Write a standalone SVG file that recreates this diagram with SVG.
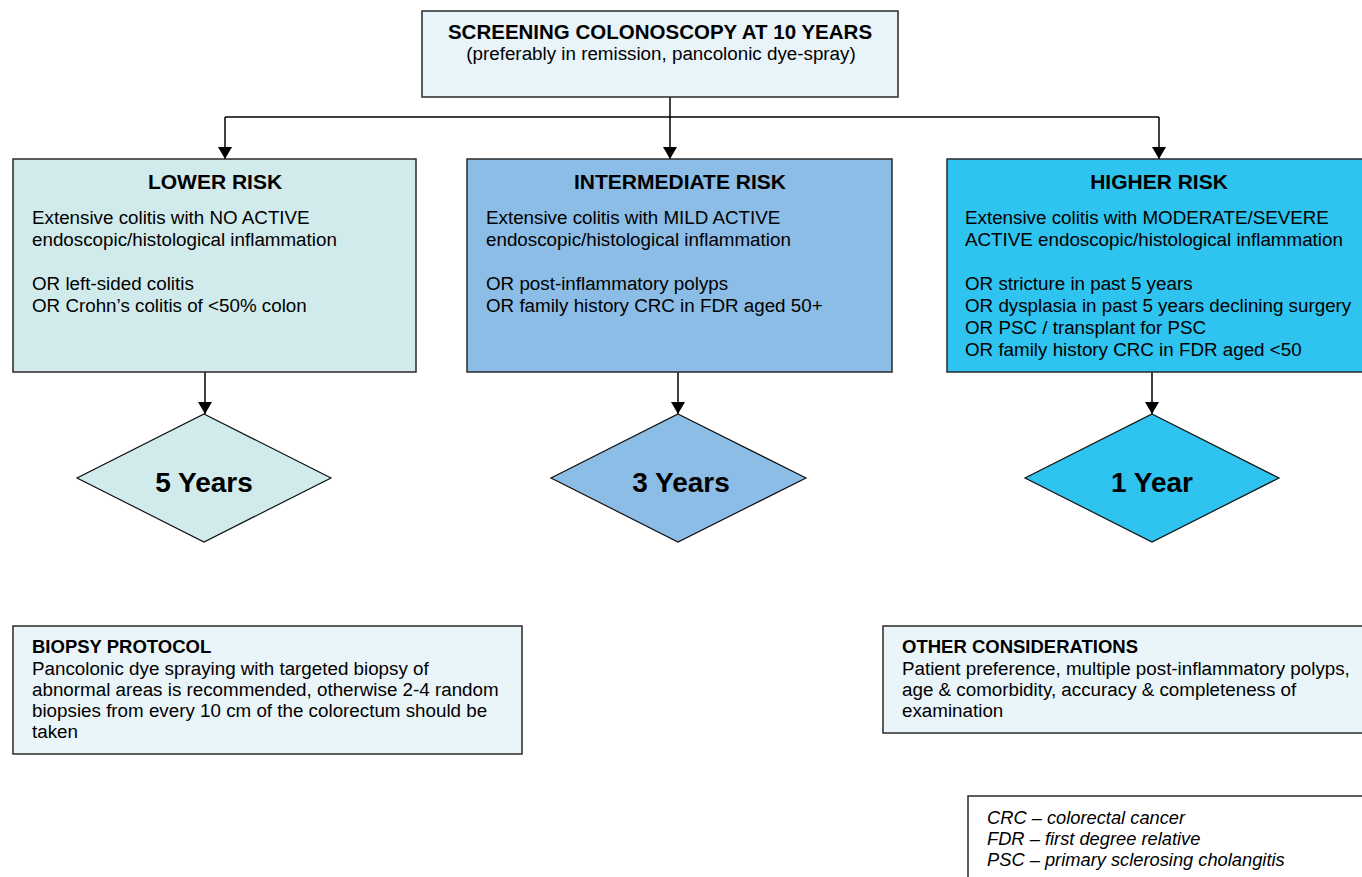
<svg xmlns="http://www.w3.org/2000/svg" width="1362" height="877" viewBox="0 0 1362 877">
<defs>
<marker id="ah" markerWidth="12" markerHeight="14" refX="12" refY="7" orient="auto" markerUnits="userSpaceOnUse" viewBox="0 0 12 14">
<path d="M0,0 L12,7 L0,14 Z" fill="#000"/>
</marker>
<style>
text{font-family:"Liberation Sans",Arial,sans-serif;fill:#000}
.box{stroke:#2a2a2a;stroke-width:1.5}
.dia{stroke:#111;stroke-width:1.2}
.ttl{font-size:20.5px;font-weight:bold}
.hd{font-size:21px;font-weight:bold}
.bd{font-size:18.8px}
.bh{font-size:18.5px;font-weight:bold}
.big{font-size:28px;font-weight:bold}
.it{font-size:18.3px;font-style:italic}
.ln{stroke:#000;stroke-width:1.5;fill:none}
</style>
</defs>
<rect width="1362" height="877" fill="#fff"/>
<g id="connectors">
<line class="ln" x1="670" y1="97" x2="670" y2="117"/>
<line class="ln" x1="225" y1="117" x2="1159" y2="117"/>
<line class="ln" x1="225" y1="117" x2="225" y2="159" marker-end="url(#ah)"/>
<line class="ln" x1="670" y1="117" x2="670" y2="159" marker-end="url(#ah)"/>
<line class="ln" x1="1159" y1="117" x2="1159" y2="159" marker-end="url(#ah)"/>
<line class="ln" x1="205" y1="372" x2="205" y2="414" marker-end="url(#ah)"/>
<line class="ln" x1="678" y1="372" x2="678" y2="414" marker-end="url(#ah)"/>
<line class="ln" x1="1152" y1="372" x2="1152" y2="414" marker-end="url(#ah)"/>
</g>
<g id="top">
<rect class="box" x="422" y="11" width="476" height="86" fill="#e8f4fa"/>
<text class="ttl" x="660" y="39" text-anchor="middle">SCREENING COLONOSCOPY AT 10 YEARS</text>
<text class="bd" x="661" y="60" text-anchor="middle">(preferably in remission, pancolonic dye-spray)</text>
</g>
<g id="lower">
<rect class="box" x="13" y="159" width="403" height="213" fill="#d1ebec"/>
<text class="hd" x="215" y="189" text-anchor="middle">LOWER RISK</text>
<text class="bd" x="32" y="224">Extensive colitis with NO ACTIVE</text>
<text class="bd" x="32" y="246">endoscopic/histological inflammation</text>
<text class="bd" x="32" y="290">OR left-sided colitis</text>
<text class="bd" x="32" y="312">OR Crohn’s colitis of &lt;50% colon</text>
</g>
<g id="intermediate">
<rect class="box" x="467" y="159" width="425" height="213" fill="#8cbde6"/>
<text class="hd" x="680" y="189" text-anchor="middle">INTERMEDIATE RISK</text>
<text class="bd" x="486" y="224">Extensive colitis with MILD ACTIVE</text>
<text class="bd" x="486" y="246">endoscopic/histological inflammation</text>
<text class="bd" x="486" y="290">OR post-inflammatory polyps</text>
<text class="bd" x="486" y="312">OR family history CRC in FDR aged 50+</text>
</g>
<g id="higher">
<rect class="box" x="947" y="159" width="425" height="213" fill="#2fc3f0"/>
<text class="hd" x="1159" y="189" text-anchor="middle">HIGHER RISK</text>
<text class="bd" x="965" y="224">Extensive colitis with MODERATE/SEVERE</text>
<text class="bd" x="965" y="246">ACTIVE endoscopic/histological inflammation</text>
<text class="bd" x="965" y="290">OR stricture in past 5 years</text>
<text class="bd" x="965" y="312">OR dysplasia in past 5 years declining surgery</text>
<text class="bd" x="965" y="334">OR PSC / transplant for PSC</text>
<text class="bd" x="965" y="356">OR family history CRC in FDR aged &lt;50</text>
</g>
<g id="d5">
<polygon class="dia" points="204,414 331,478 204,542 77,478" fill="#d1ebec"/>
<text class="big" x="204" y="492" text-anchor="middle">5 Years</text>
</g>
<g id="d3">
<polygon class="dia" points="678,414 806,478 678,542 551,478" fill="#8cbde6"/>
<text class="big" x="681" y="492" text-anchor="middle">3 Years</text>
</g>
<g id="d1">
<polygon class="dia" points="1152,414 1279,478 1152,542 1025,478" fill="#2fc3f0"/>
<text class="big" x="1152" y="492" text-anchor="middle">1 Year</text>
</g>
<g id="biopsy">
<rect class="box" x="13" y="626" width="509" height="128" fill="#eaf5fa"/>
<text class="bh" x="32" y="653">BIOPSY PROTOCOL</text>
<text class="bd" x="32" y="675">Pancolonic dye spraying with targeted biopsy of</text>
<text class="bd" x="32" y="696">abnormal areas is recommended, otherwise 2-4 random</text>
<text class="bd" x="32" y="717">biopsies from every 10 cm of the colorectum should be</text>
<text class="bd" x="32" y="738">taken</text>
</g>
<g id="other">
<rect class="box" x="883" y="626" width="490" height="107" fill="#eaf5fa"/>
<text class="bh" x="902" y="653">OTHER CONSIDERATIONS</text>
<text class="bd" x="902" y="675">Patient preference, multiple post-inflammatory polyps,</text>
<text class="bd" x="902" y="696">age &amp; comorbidity, accuracy &amp; completeness of</text>
<text class="bd" x="902" y="717">examination</text>
</g>
<g id="legend">
<rect class="box" x="968" y="796" width="410" height="100" fill="#fff"/>
<text class="it" x="987" y="824">CRC – colorectal cancer</text>
<text class="it" x="987" y="845">FDR – first degree relative</text>
<text class="it" x="987" y="866">PSC – primary sclerosing cholangitis</text>
</g>
</svg>
